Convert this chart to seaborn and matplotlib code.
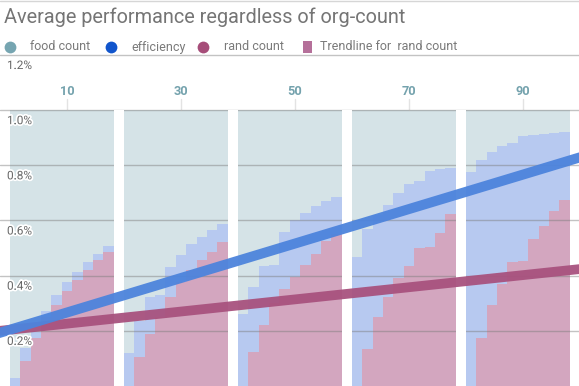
import numpy as np
import pandas as pd
import matplotlib
matplotlib.use("Agg")
import matplotlib.pyplot as plt
import seaborn as sns
from matplotlib import patheffects as pe

# ---------------- data ----------------
title = "Average performance regardless of org-count"
series_names = ["food count", "efficiency", "rand count"]
trend_label = "Trendline for  rand count"
group_labels = [10, 30, 50, 70, 90]
ytick_values = [0.2, 0.4, 0.6, 0.8, 1.0, 1.2]

food_count = [
    [1.0, 1.0, 1.0, 1.0, 1.0, 1.0, 1.0, 1.0, 1.0, 1.0],
    [1.0, 1.0, 1.0, 1.0, 1.0, 1.0, 1.0, 1.0, 1.0, 1.0],
    [1.0, 1.0, 1.0, 1.0, 1.0, 1.0, 1.0, 1.0, 1.0, 1.0],
    [1.0, 1.0, 1.0, 1.0, 1.0, 1.0, 1.0, 1.0, 1.0, 1.0],
    [1.0, 1.0, 1.0, 1.0, 1.0, 1.0, 1.0, 1.0, 1.0, 1.0],
]
efficiency = [
    [0.030, 0.136, 0.194, 0.273, 0.331, 0.376, 0.415, 0.451, 0.479, 0.507],
    [0.121, 0.234, 0.321, 0.330, 0.430, 0.475, 0.515, 0.539, 0.566, 0.588],
    [0.261, 0.358, 0.436, 0.440, 0.558, 0.600, 0.628, 0.652, 0.669, 0.685],
    [0.469, 0.570, 0.620, 0.655, 0.699, 0.733, 0.745, 0.778, 0.788, 0.790],
    [0.776, 0.818, 0.848, 0.870, 0.882, 0.905, 0.909, 0.913, 0.919, 0.921],
]
rand_count = [
    [0.0, 0.091, 0.173, 0.251, 0.295, 0.343, 0.384, 0.422, 0.457, 0.487],
    [0.0, 0.105, 0.190, 0.250, 0.321, 0.376, 0.420, 0.455, 0.487, 0.521],
    [0.0, 0.124, 0.221, 0.300, 0.350, 0.394, 0.439, 0.479, 0.524, 0.552],
    [0.0, 0.133, 0.251, 0.321, 0.392, 0.436, 0.499, 0.503, 0.555, 0.624],
    [0.0, 0.173, 0.293, 0.370, 0.448, 0.452, 0.533, 0.581, 0.636, 0.676],
]
# linear trendlines (intercept at x=0, slope per unit), in %
efficiency_trend = [0.204, 0.00625]
rand_trend = [0.204, 0.0022]

# ---------------- style ----------------
sns.set_theme(style="white")
plt.rcParams["font.family"] = ["Roboto", "DejaVu Sans"]

W, H = 579, 386
fig = plt.figure(figsize=(W / 100, H / 100), dpi=100)
ax = fig.add_axes([0, 0, 1, 331 / 386])

n_groups = len(group_labels)
per_group = len(efficiency[0])
step_w = 20 / (per_group + 1)
n_bins = n_groups * (per_group + 1)


def long_frame(values, name):
    rows = []
    for g, grp in enumerate(values):
        for i, v in enumerate(grp):
            rows.append({"x": g * 20 + (i + 0.5) * step_w, "value": v, "series": name})
    return pd.DataFrame(rows)


area_colors = {"food count": "#d5e3e7", "efficiency": "#b7c9f0", "rand count": "#d3a6bf"}
for vals, name in [(food_count, "food count"), (efficiency, "efficiency"), (rand_count, "rand count")]:
    df = long_frame(vals, name)
    sns.histplot(data=df, x="x", weights="value", binwidth=step_w,
                 binrange=(0, n_bins * step_w), element="step",
                 fill=True, color=area_colors[name], alpha=1, linewidth=0, ax=ax)

# gridlines
for v in ytick_values:
    ax.axhline(v, color="#7a7a7a", alpha=0.45, lw=1, zorder=5, clip_on=False)

# white gaps between groups
for g in range(n_groups - 1):
    ax.axvspan(g * 20 + per_group * step_w, (g + 1) * 20, ymin=0, ymax=1.0 / 1.2,
               color="white", lw=0, zorder=6)

# trendlines
xs = np.array([-3.0, 101.0])
sns.lineplot(x=xs, y=rand_trend[0] + rand_trend[1] * xs, color="#a8527e",
             lw=7.0, alpha=0.95, ax=ax, zorder=7)
sns.lineplot(x=xs, y=efficiency_trend[0] + efficiency_trend[1] * xs, color="#4d84dc",
             lw=7.2, alpha=0.95, ax=ax, zorder=8)
ax.set_xlim(-10 / 5.7, 569 / 5.7)
ax.set_ylim(0, 1.2)
ax.axis("off")

# y labels (inside plot, under gridline)
halo = [pe.withStroke(linewidth=2.5, foreground="white")]
for v in ytick_values:
    ax.annotate(f"{v:.1f}%", xy=(0, v), xycoords=("axes fraction", "data"),
                xytext=(7, -4), textcoords="offset pixels", ha="left", va="top",
                fontsize=8.5, color="#666666", zorder=10, path_effects=halo)

# top group labels with small ticks
for g, lab in enumerate(group_labels):
    ax.plot([lab, lab], [1.0, 1.04], color="#e3e3e3", lw=1, zorder=4, clip_on=False)
    ax.text(lab, 1.068, str(lab), ha="center", va="center", fontsize=9.2,
            fontweight="bold", color="#74a2ad", zorder=10)

# ---------------- title & legend in pixel coordinates ----------------
ov = fig.add_axes([0, 0, 1, 1], zorder=20)
ov.set_xlim(0, W)
ov.set_ylim(H, 0)
ov.axis("off")
ov.patch.set_alpha(0)
ov.plot([0, W], [1, 1], color="#d6d6d6", lw=1)
ov.text(4, 17, title, fontsize=14.3, color="#757575", ha="left", va="center")

leg_y = 47
marker_colors = ["#76a5b1", "#1155cc", "#a64d79"]
marker_x = [10, 111, 203]
text_x = [30, 131, 224]
for mx, tx, c, name in zip(marker_x, text_x, marker_colors, series_names):
    ov.scatter([mx], [leg_y], s=72, color=c, lw=0)
    ov.text(tx, leg_y, name, fontsize=9, color="#7a7a7a", ha="left", va="center")
ov.add_patch(plt.Rectangle((302.5, leg_y - 6), 9, 12, color="#b5709a", lw=0))
ov.text(320, leg_y, trend_label, fontsize=9, color="#7a7a7a", ha="left", va="center")

fig.savefig("out.png", dpi=100)
